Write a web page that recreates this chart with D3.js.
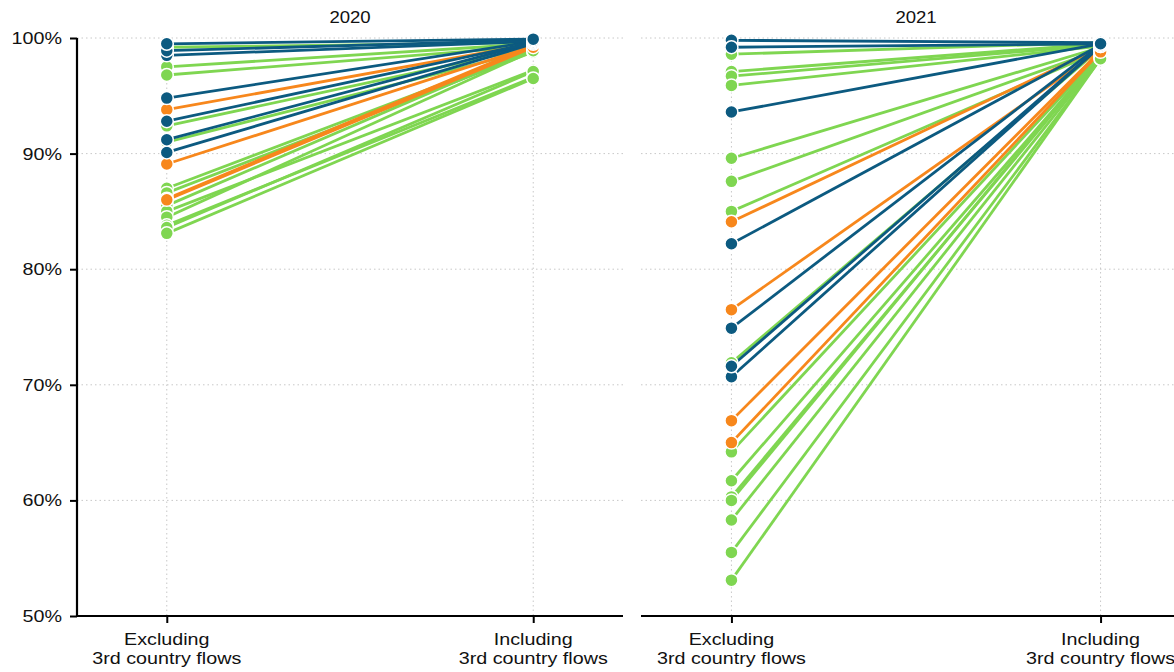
<!DOCTYPE html>
<html>
<head>
<meta charset="utf-8">
<script src="https://cdn.jsdelivr.net/npm/d3@7"></script>
<style>
  html, body { margin: 0; padding: 0; background: #fff; }
  svg { display: block; font-family: "Liberation Sans", Arial, sans-serif; }
</style>
</head>
<body>
<svg id="chart" width="1174" height="672"></svg>
<script>
// Share of flows by country, excluding vs including 3rd country flows
const categories = ["Excluding\n3rd country flows", "Including\n3rd country flows"];
const years = ["2020", "2021"];
const yTicks = [0.5, 0.6, 0.7, 0.8, 0.9, 1.0];

// group of each country line: "g" green, "o" orange, "b" blue
const groups2020   = ["g","g","g","g","g","g","g","g","g","g","g","g","g","o","o","o","o","b","b","b","b","b","b","b"];
const excl2020     = [0.992,0.975,0.968,0.924,0.910,0.870,0.866,0.855,0.850,0.845,0.838,0.836,0.831,0.938,0.891,0.861,0.860,0.901,0.912,0.928,0.948,0.985,0.989,0.995];
const incl2020     = [0.996,0.995,0.993,0.992,0.990,0.990,0.988,0.991,0.972,0.989,0.966,0.971,0.965,0.995,0.993,0.994,0.992,0.995,0.996,0.996,0.997,0.997,0.998,0.999];

const groups2021   = ["g","g","g","g","g","g","g","g","g","g","g","g","g","g","g","o","o","o","o","b","b","b","b","b","b","b"];
const excl2021     = [0.986,0.971,0.967,0.959,0.896,0.876,0.850,0.719,0.642,0.617,0.603,0.600,0.583,0.555,0.531,0.841,0.765,0.669,0.650,0.707,0.716,0.749,0.822,0.936,0.998,0.992];
const incl2021     = [0.996,0.995,0.994,0.993,0.992,0.990,0.989,0.991,0.986,0.985,0.984,0.986,0.983,0.982,0.982,0.992,0.990,0.989,0.988,0.993,0.993,0.994,0.994,0.995,0.996,0.995];

const palette = { g: "#7fd651", o: "#f7871c", b: "#0c5a80" };
const order = { g: 0, o: 1, b: 2 };

const svg = d3.select("#chart");
const plotTop = 38, plotBottom = 616;
const textStretch = 1.16;   // wide lettering for labels

const y = d3.scaleLinear().domain([0.5, 1.0]).range([plotBottom, plotTop]);

const panels = [
  { year: years[0], groups: groups2020, excl: excl2020, incl: incl2020, x0: 77, x1: 623, axis: true },
  { year: years[1], groups: groups2021, excl: excl2021, incl: incl2021, x0: 641, x1: 1191, axis: false }
];

function wideText(sel, x, yPos, size, anchor) {
  return sel.append("text")
    .attr("transform", `translate(${x},${yPos}) scale(${textStretch},1)`)
    .attr("text-anchor", anchor)
    .attr("font-size", size)
    .attr("fill", "#111");
}

panels.forEach(p => {
  const x = d3.scalePoint().domain(categories).range([p.x0, p.x1]).padding(0.245);
  const g = svg.append("g");

  // dotted grid: horizontal at every tick, vertical at each category
  g.selectAll("line.hgrid").data(yTicks).join("line")
    .attr("x1", p.x0).attr("x2", p.x1)
    .attr("y1", d => y(d)).attr("y2", d => y(d))
    .attr("stroke", "#c8c8c8").attr("stroke-width", 1).attr("stroke-dasharray", "1.5,3");
  g.selectAll("line.vgrid").data(categories).join("line")
    .attr("x1", d => x(d)).attr("x2", d => x(d))
    .attr("y1", plotTop).attr("y2", plotBottom)
    .attr("stroke", "#c8c8c8").attr("stroke-width", 1).attr("stroke-dasharray", "1.5,3");

  // title
  wideText(g, (x(categories[0]) + x(categories[1])) / 2, 23, 16, "middle").text(p.year);

  const rows = p.groups.map((grp, i) => ({ grp, a: p.excl[i], b: p.incl[i] }))
    .sort((m, n) => order[m.grp] - order[n.grp]);

  // connecting lines
  g.selectAll("line.link").data(rows).join("line")
    .attr("x1", x(categories[0])).attr("x2", x(categories[1]))
    .attr("y1", d => y(d.a)).attr("y2", d => y(d.b))
    .attr("stroke", d => palette[d.grp])
    .attr("stroke-width", 2.8);

  // end points
  const pts = rows.flatMap(d => [
    { grp: d.grp, c: categories[0], v: d.a },
    { grp: d.grp, c: categories[1], v: d.b }
  ]);
  g.selectAll("circle").data(pts).join("circle")
    .attr("cx", d => x(d.c)).attr("cy", d => y(d.v))
    .attr("r", 6.5)
    .attr("fill", d => palette[d.grp])
    .attr("stroke", "#fff").attr("stroke-width", 1.5);

  // bottom axis
  const xAxis = d3.axisBottom(x).tickSize(7).tickFormat("");
  const ax = g.append("g").attr("transform", `translate(0,${plotBottom})`).call(xAxis);
  ax.select(".domain").attr("d", `M${p.x0},0H${p.x1}`).attr("stroke", "#000").attr("stroke-width", 2.2);
  ax.selectAll(".tick line").attr("stroke", "#000").attr("stroke-width", 2);
  categories.forEach(c => {
    c.split("\n").forEach((line, i) => {
      wideText(g, x(c), plotBottom + 29 + i * 19, 17, "middle").text(line);
    });
  });

  // left value axis
  if (p.axis) {
    const yAxis = d3.axisLeft(y).tickValues(yTicks).tickFormat("").tickSize(7);
    const ay = g.append("g").attr("transform", `translate(${p.x0},0)`).call(yAxis);
    ay.select(".domain").attr("d", `M0,${plotTop}V${plotBottom}`).attr("stroke", "#000").attr("stroke-width", 2.2);
    ay.selectAll(".tick line").attr("stroke", "#000").attr("stroke-width", 2);
    const fmt = d3.format(".0%");
    yTicks.forEach(t => {
      wideText(g, p.x0 - 15, y(t) + 6, 17, "end").text(fmt(t));
    });
  }
});
</script>
</body>
</html>
